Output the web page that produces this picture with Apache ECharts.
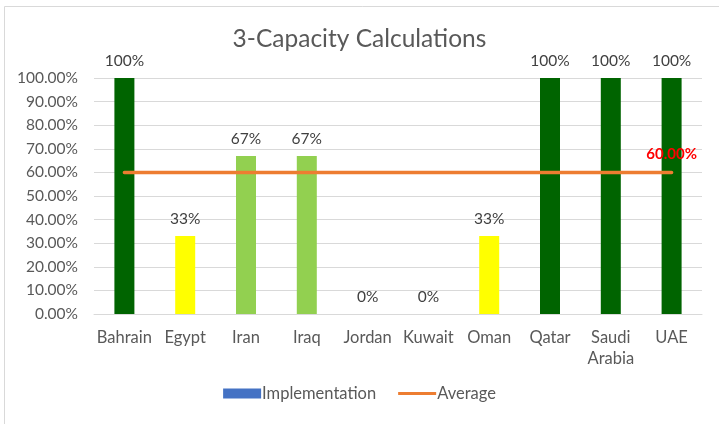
<!DOCTYPE html>
<html>
<head>
<meta charset="utf-8">
<script src="https://cdn.jsdelivr.net/npm/echarts@6/dist/echarts.min.js"></script>
<style>
  html, body { margin: 0; padding: 0; background: #fff; }
  #chart { width: 719px; height: 424px; }
</style>
</head>
<body>
<div id="chart"></div>
<script>
const countries = ['Bahrain', 'Egypt', 'Iran', 'Iraq', 'Jordan', 'Kuwait', 'Oman', 'Qatar', 'Saudi\nArabia', 'UAE']
const implementation = [1, 0.33, 0.67, 0.67, 0, 0, 0.33, 1, 1, 1]
const barColors = ['#006400', '#FFFF00', '#92D050', '#92D050', '#92D050', '#92D050', '#FFFF00', '#006400', '#006400', '#006400']
const average = [0.6, 0.6, 0.6, 0.6, 0.6, 0.6, 0.6, 0.6, 0.6, 0.6]

const font = 'Lato, "Open Sans", sans-serif'
const chart = echarts.init(document.getElementById('chart'), null, { renderer: 'canvas' })

const option = {
  animation: false,
  textStyle: { fontFamily: font },
  graphic: [
    {
      type: 'rect',
      shape: { x: 4.5, y: 6.5, width: 760, height: 440 },
      style: { fill: 'none', stroke: '#D9D9D9', lineWidth: 1 },
      silent: true
    }
  ],
  title: {
    text: '3-Capacity Calculations',
    left: 'center',
    top: 22,
    textStyle: { fontFamily: font, fontSize: 24.5, fontWeight: 'normal', color: '#595959' }
  },
  legend: {
    bottom: 17,
    left: 'center',
    itemGap: 22,
    itemWidth: 38,
    itemHeight: 10,
    textStyle: { fontFamily: font, fontSize: 16.5, color: '#595959', padding: [0, 0, 0, -4] },
    data: [
      { name: 'Implementation', icon: 'rect', itemStyle: { color: '#4472C4' } },
      { name: 'Average', icon: 'path://M0,3.5L40,3.5L40,6.5L0,6.5Z', itemStyle: { color: '#ED7D31' } }
    ]
  },
  grid: { left: 94, right: 17, top: 78, bottom: 110 },
  xAxis: {
    type: 'category',
    data: countries,
    axisLine: { lineStyle: { color: '#D9D9D9' } },
    axisTick: { show: false },
    axisLabel: { color: '#595959', fontSize: 16.5, margin: 13, lineHeight: 21, interval: 0 }
  },
  yAxis: {
    type: 'value',
    min: 0,
    max: 1,
    interval: 0.1,
    axisLine: { show: false },
    axisTick: { show: false },
    splitLine: { lineStyle: { color: '#D9D9D9' } },
    axisLabel: {
      color: '#595959',
      fontSize: 15.5,
      margin: 16,
      formatter: (v) => (v * 100).toFixed(2) + '%'
    }
  },
  series: [
    {
      name: 'Implementation',
      type: 'bar',
      barWidth: 20,
      itemStyle: { color: '#4472C4' },
      data: implementation.map((v, i) => ({ value: v, itemStyle: { color: barColors[i] } })),
      label: {
        show: true,
        position: 'top',
        distance: 9,
        color: '#404040',
        fontSize: 15.5,
        formatter: (p) => Math.round(p.value * 100) + '%'
      }
    },
    {
      name: 'Average',
      type: 'line',
      symbol: 'circle',
      symbolSize: 0,
      showSymbol: true,
      lineStyle: { color: '#ED7D31', width: 3.5, cap: 'round' },
      itemStyle: { color: '#ED7D31' },
      data: average.map((v, i) => i === average.length - 1
        ? { value: v, label: { show: true, position: 'top', distance: 11, color: '#FF0000', fontWeight: 'bold', fontSize: 15, formatter: (p) => (p.value * 100).toFixed(2) + '%' } }
        : v),
      z: 3
    }
  ]
}

chart.setOption(option)
</script>
</body>
</html>
